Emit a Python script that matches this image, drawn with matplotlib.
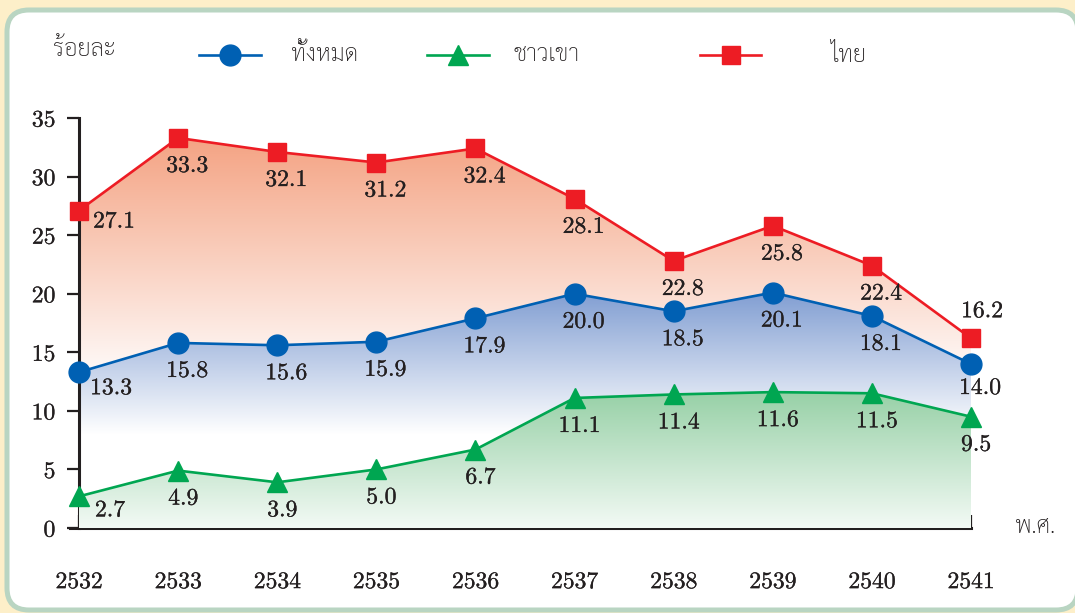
import numpy as np
import matplotlib
matplotlib.use('Agg')
import matplotlib.pyplot as plt
import matplotlib.patheffects as pe
from matplotlib.patches import FancyBboxPatch
from matplotlib.lines import Line2D
from matplotlib.colors import to_rgb

plt.rcParams['axes.unicode_minus'] = False

# data
years = [2532, 2533, 2534, 2535, 2536, 2537, 2538, 2539, 2540, 2541]
total = [13.3, 15.8, 15.6, 15.9, 17.9, 20.0, 18.5, 20.1, 18.1, 14.0]
hilltribe = [2.7, 4.9, 3.9, 5.0, 6.7, 11.1, 11.4, 11.6, 11.5, 9.5]
thai = [27.1, 33.3, 32.1, 31.2, 32.4, 28.1, 22.8, 25.8, 22.4, 16.2]
yticks = [0, 5, 10, 15, 20, 25, 30, 35]
names = ['ทั้งหมด', 'ชาวเขา', 'ไทย']
ylabel = 'ร้อยละ'
xlabel = 'พ.ศ.'

RED = '#ed1c24'
BLUE = '#0060b3'
GREEN = '#00a651'
INK = '#231f20'
NUM_FONT = ['Latin Modern Roman', 'cmr10', 'DejaVu Serif']
THAI_FONT = ['Sarabun', 'Noto Sans Thai Looped', 'DejaVu Sans']
heavy = [pe.withStroke(linewidth=0.25, foreground=INK)]

W, H = 1075, 613
fig = plt.figure(figsize=(W / 100, H / 100), dpi=100)
fig.patch.set_facecolor('#fdefc9')

# rounded white panel with green border (in inches so the corners stay round)
panel = FancyBboxPatch((0.07, 0.03), 10.71, 6.0,
                       boxstyle='round,pad=0,rounding_size=0.22',
                       transform=fig.dpi_scale_trans, facecolor='white',
                       edgecolor='#b9d5c2', linewidth=3.6, zorder=0)
fig.add_artist(panel)

def px(x, y):
    return x / W, 1 - y / H

ax = fig.add_axes([70 / W, 85 / H, (971 - 70) / W, (528 - 118) / H])
ax.set_facecolor('none')

def grad_fill(x, y, color, y_lo, y_hi, z):
    poly = ax.fill_between(x, y, 0, facecolor='none', edgecolor='none')
    ys = np.linspace(0, 35, 500)
    t = np.clip((ys - y_lo) / (y_hi - y_lo), 0, 1)[:, None, None]
    c = np.array(to_rgb(color))[None, None, :]
    img = 1 - t * (1 - c)
    im = ax.imshow(img, extent=[x[0], x[-1], 0, 35], origin='lower',
                   aspect='auto', interpolation='bilinear', zorder=z)
    im.set_clip_path(poly.get_paths()[0], transform=ax.transData)

grad_fill(years, thai, '#f4a07f', 12, 34, 1)
grad_fill(years, total, '#7897cf', 8, 21, 2)
grad_fill(years, hilltribe, '#94cfa4', -1.5, 12, 3)

ax.plot(years, thai, color=RED, lw=1.9, marker='s', ms=13, mec=RED, zorder=5, clip_on=False)
ax.plot(years, total, color=BLUE, lw=1.9, marker='o', ms=15, mec=BLUE, zorder=6, clip_on=False)
ax.plot(years, hilltribe, color=GREEN, lw=1.9, marker='^', ms=15, mec=GREEN, zorder=7, clip_on=False)

# value labels, offsets in pixels (right, down)
def labels(vals, default, special):
    for i, (x, v) in enumerate(zip(years, vals)):
        dx, dy = special.get(i, default)
        ax.annotate(f'{v:.1f}', (x, v), xytext=(dx * 0.72, -dy * 0.72),
                    textcoords='offset points', ha='center', va='center',
                    fontsize=17, family=NUM_FONT, color=INK, zorder=8,
                    path_effects=heavy)

labels(thai, (9, 28), {0: (35, 11), 9: (11, -27)})
labels(total, (9, 28), {0: (32, 16), 9: (9, 24)})
labels(hilltribe, (5, 28), {0: (31, 14)})

ax.set_xlim(2532 - 9 / 99.1, 2541)
ax.set_ylim(0, 35)
ax.set_xticks(years)
ax.set_yticks(yticks)
for s in ['top', 'right']:
    ax.spines[s].set_visible(False)
ax.spines['left'].set_position(('data', 2532))
for s in ['left', 'bottom']:
    ax.spines[s].set_linewidth(2.2)
    ax.spines[s].set_color(INK)
ax.tick_params(axis='y', direction='out', length=9, width=1.6, color=INK, pad=8)
ax.tick_params(axis='x', direction='in', length=9.5, width=1.6, color=INK, pad=31)
for lab in ax.get_xticklabels() + ax.get_yticklabels():
    lab.set_family(NUM_FONT)
    lab.set_fontsize(17)
    lab.set_color(INK)
    lab.set_path_effects(heavy)

# legend and axis titles
fig.text(*px(84, 50), ylabel, family=THAI_FONT, fontsize=17, weight='light',
         color=INK, ha='center', va='center')
fig.text(*px(1015, 527), xlabel, family=THAI_FONT, fontsize=17, weight='light',
         color=INK, ha='left', va='center')

legend_items = [
    (199, 261, 'o', BLUE, 291),
    (427, 489, '^', GREEN, 513),
    (700, 761, 's', RED, 830),
]
for (x0, x1, m, c, tx), name in zip(legend_items, names):
    fx0, fy = px(x0, 55)
    fx1, _ = px(x1, 55)
    fig.add_artist(Line2D([fx0, fx1], [fy, fy], color=c, lw=1.9))
    fig.add_artist(Line2D([(fx0 + fx1) / 2], [fy], marker=m, color=c,
                          ms=15 if m != 's' else 13, mec=c))
    fig.text(*px(tx, 55), name, family=THAI_FONT, fontsize=17, weight='light',
             color=INK, ha='left', va='center')

fig.savefig('out.png', dpi=100, facecolor=fig.get_facecolor())
